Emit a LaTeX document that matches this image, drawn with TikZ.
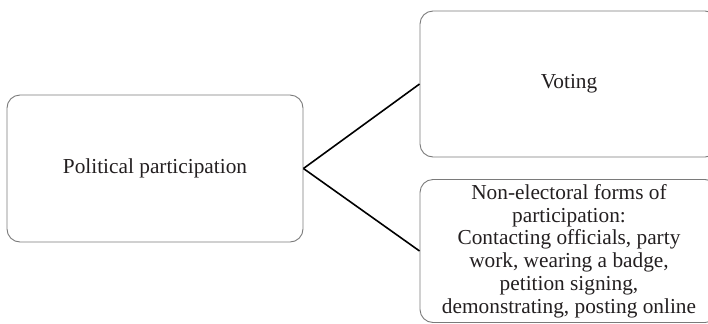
\documentclass[tikz,border=0pt]{standalone}
\usepackage{fontspec}
\setmainfont{Liberation Serif}
\definecolor{boxline}{HTML}{7A7A7A}
\definecolor{ink}{HTML}{231F20}
\begin{document}
\begin{tikzpicture}[x=1bp,y=-1bp,
  box/.style={draw=boxline, line width=0.9bp, rounded corners=13bp, rectangle,
    align=center, text=ink, inner sep=0pt,
    font=\fontsize{21.4}{22.8}\selectfont},
  link/.style={draw=black, line width=1.6bp}]
\useasboundingbox (0,0) rectangle (708,323);
\clip (0,0) rectangle (708,323);
\node[box, minimum width=296bp, minimum height=147bp] (pp) at (155,168.5) {Political participation};
\node[box, minimum width=298bp, minimum height=146bp] (vote) at (569,84) {Voting};
\node[box, minimum width=298bp, minimum height=143bp] (nonel) at (569,251)
  {Non-electoral forms of\\participation:\\Contacting officials, party\\work, wearing a badge,\\petition signing,\\demonstrating, posting online};
\draw[link] (pp.east) -- (vote.west);
\draw[link] (pp.east) -- (nonel.west);
\end{tikzpicture}
\end{document}
